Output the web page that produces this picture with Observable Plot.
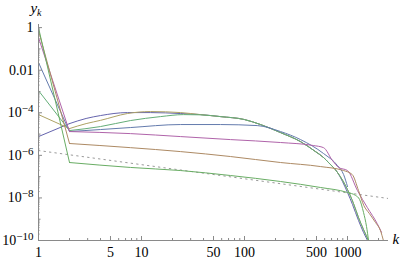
<!DOCTYPE html>
<html><head><meta charset="utf-8">
<script src="https://cdn.jsdelivr.net/npm/d3@7"></script>
<script src="https://cdn.jsdelivr.net/npm/@observablehq/plot@0.6"></script>
<style>
html,body{margin:0;padding:0;background:#fff}
#chart svg{display:block}
#chart svg, #chart svg text, #chart svg tspan{font-family:"Liberation Serif","Times New Roman","DejaVu Serif",serif !important}
</style>
</head><body><div id="chart"></div>
<script>
// ---- data ----
const c1k = [1, 2, 2.9, 4, 7.3, 12.2, 24, 37.4, 58.5, 100, 143, 224, 350, 489, 585, 654, 800, 1000, 1118, 1279, 1430, 1564];
const c1y = [7.6e-6, 3.1e-5, 5.4e-5, 7.4e-5, 1.02e-4, 1.02e-4, 9.2e-5, 8.2e-5, 6.6e-5, 4.8e-5, 2.8e-5, 1.17e-5, 4.4e-6, 1.5e-6, 7.9e-7, 4.6e-7, 1.56e-7, 1.8e-8, 4.9e-9, 8.7e-10, 2.4e-10, 1e-10];
const c3k = [1, 2, 2.9, 4, 7.3, 12.2, 24, 37.4, 58.5, 100, 143, 224, 350, 489, 585, 654, 800, 1000, 1143, 1279, 1430, 1600];
const c3y = [8.2e-5, 1.81e-5, 3.1e-5, 4.4e-5, 9.2e-5, 1.14e-4, 1.02e-4, 8.2e-5, 6.6e-5, 4.8e-5, 2.8e-5, 1.17e-5, 4.4e-6, 1.5e-6, 7.9e-7, 4.6e-7, 1.56e-7, 2.48e-8, 5.5e-9, 1.2e-9, 3.3e-10, 1e-10];
const c4k = [1, 2, 4, 7.8, 15.3, 25.6, 37.4, 58.5, 100, 143, 224, 350, 489, 585, 654, 800, 1000, 1143, 1279, 1430, 1600];
const c4y = [1.1e-3, 1.46e-5, 2.25e-5, 4.3e-5, 6.6e-5, 8.2e-5, 8.0e-5, 6.6e-5, 4.8e-5, 2.8e-5, 1.17e-5, 4.4e-6, 1.5e-6, 7.9e-7, 4.6e-7, 1.56e-7, 2.48e-8, 5.5e-9, 1.2e-9, 3.3e-10, 1e-10];
const c5k = [1, 2, 4, 7.8, 24, 58.5, 133, 224, 350, 585, 800, 916, 1000];
const c5y = [2.3e-2, 1.31e-5, 1.63e-5, 2.02e-5, 2.8e-5, 2.8e-5, 2.5e-5, 1.31e-5, 5.5e-6, 1.22e-6, 3.3e-7, 1.26e-7, 3.4e-8];
const c6k = [1, 2, 7.8, 24, 73, 224, 465, 585, 715, 820, 1000, 1250, 1560, 1940, 2140];
const c6y = [0.34, 1.31e-5, 1.05e-5, 7.6e-6, 5.5e-6, 4.0e-6, 2.9e-6, 2.3e-6, 5.7e-7, 2.7e-7, 1.93e-7, 2.2e-8, 3.5e-9, 6.3e-10, 2.4e-10];
const c7k = [1, 2, 7.8, 24, 73, 224, 545, 916, 1110, 1280, 1440, 1630, 1870, 2090, 2230];
const c7y = [0.72, 3.6e-6, 2.3e-6, 1.5e-6, 8.8e-7, 4.6e-7, 2.98e-7, 1.93e-7, 1.26e-7, 2.2e-8, 4.4e-9, 1.85e-9, 7.0e-10, 2.9e-10, 1e-10];
const c8k = [1, 2, 7.8, 24, 73, 224, 545, 1000, 1200, 1310, 1430, 1530, 1600];
const c8y = [1.0, 4.6e-7, 2.7e-7, 1.93e-7, 1.13e-7, 5.9e-8, 3.1e-8, 1.8e-8, 1.3e-8, 8.4e-9, 2.1e-9, 4.5e-10, 1e-10];
const refK = [1, 2500];
const refY = [1.68e-6, 9.4e-9];

const xTicks = [1, 5, 10, 50, 100, 500, 1000];
const xTickLabels = ["1", "5", "10", "50", "100", "500", "1000"];
const xMinorTicks = [2, 3, 4, 6, 7, 8, 9, 20, 30, 40, 60, 70, 80, 90, 200, 300, 400, 600, 700, 800, 900, 2000];
const yTicks = [1, 1e-2, 1e-4, 1e-6, 1e-8, 1e-10];
const yTickLabels = ["1", "0.01", "10^−4", "10^−6", "10^−8", "10^−10"];
const yMidTicks = [1e-1, 1e-3, 1e-5, 1e-7, 1e-9];
const yMinorMant = [2, 3, 4, 5, 6, 7, 8, 9];
const yMinorExp = [-10, -9, -8, -7, -6, -5, -4, -3, -2, -1];

// ---- build ----
const series = [
  {k: c1k, y: c1y, color: "#6564AD"},
  {k: c3k, y: c3y, color: "#ADA264"},
  {k: c4k, y: c4y, color: "#64AD78"},
  {k: c5k, y: c5y, color: "#647BAD"},
  {k: c6k, y: c6y, color: "#B064AA"},
  {k: c7k, y: c7y, color: "#AD8A64"},
  {k: c8k, y: c8y, color: "#69AD64"}
];
const yMinor = yMinorExp.flatMap(e => yMinorMant.map(m => m * Math.pow(10, e)));
const refRows = refK.map((k, i) => ({k, y: refY[i]}));
const axisColor = "#8a8a8a";
const serif = "'Liberation Serif', 'Times New Roman', serif";

const lineMarks = series.flatMap(s => {
  const rows = s.k.map((k, i) => ({k, y: s.y[i]}));
  return [
    Plot.line(rows.slice(0, 2), {x: "k", y: "y", stroke: s.color, strokeWidth: 1, clip: true}),
    Plot.line(rows.slice(1), {x: "k", y: "y", stroke: s.color, strokeWidth: 1, curve: "monotone-x", clip: true})
  ];
});

const chart = Plot.plot({
  width: 407, height: 260,
  marginLeft: 38, marginRight: 19, marginTop: 24, marginBottom: 20,
  x: {type: "log", domain: [1, 2500], axis: null},
  y: {type: "log", domain: [1e-10, 1.4], axis: null},
  style: {fontFamily: serif, fontSize: "14px", background: "white", color: "black"},
  marks: [
    Plot.line(refRows, {x: "k", y: "y", stroke: "#9a9a9a", strokeWidth: 1, strokeDasharray: "1.5,4", clip: true}),
    ...lineMarks,
    Plot.ruleY([1e-10], {stroke: axisColor}),
    Plot.ruleX([1], {stroke: axisColor}),
    Plot.ruleX(xTicks, {x: d => d, y1: 1e-10, y2: 1e-10, insetBottom: 4, stroke: axisColor}),
    Plot.ruleX(xMinorTicks, {x: d => d, y1: 1e-10, y2: 1e-10, insetBottom: 2, stroke: axisColor}),
    Plot.ruleY(yTicks, {y: d => d, x1: 1, x2: 1, insetRight: -4, stroke: axisColor}),
    Plot.ruleY(yMidTicks, {y: d => d, x1: 1, x2: 1, insetRight: -2.5, stroke: axisColor}),
    Plot.ruleY(yMinor, {y: d => d, x1: 1, x2: 1, insetRight: -1.5, stroke: axisColor}),
    Plot.text(xTicks, {x: d => d, y: 1e-10, text: (d, i) => xTickLabels[i], dy: 12.5, textAnchor: "middle", lineAnchor: "middle", fill: "black", fontSize: 14}),
    Plot.text(yTicks, {x: 1, y: d => d, text: (d, i) => yTickLabels[i], dx: -5, textAnchor: "end", lineAnchor: "middle", fill: "black", fontSize: 14}),
    Plot.text(["k"], {frameAnchor: "bottom-right", dx: 4, dy: -1, textAnchor: "start", lineAnchor: "middle", fontStyle: "italic", fontSize: 15, fill: "black"}),
    Plot.text(["y"], {frameAnchor: "top-left", dx: -8, dy: -12, textAnchor: "start", lineAnchor: "bottom", fontStyle: "italic", fontSize: 15, fill: "black"}),
    Plot.text(["k"], {frameAnchor: "top-left", dx: -1.5, dy: -9, textAnchor: "start", lineAnchor: "bottom", fontStyle: "italic", fontSize: 10, fill: "black"})
  ]
});

// serif font and superscripts for powers of ten
d3.select(chart).attr("font-family", serif).selectAll("g").attr("font-family", serif);
d3.select(chart).selectAll("text").attr("font-family", serif).each(function() {
  const t = this.textContent;
  if (t.includes("^")) {
    const [base, exp] = t.split("^");
    const sel = d3.select(this);
    sel.text(null);
    sel.append("tspan").text(base);
    sel.append("tspan").attr("dy", "-0.45em").attr("font-size", "11px").text(exp);
  }
});
document.getElementById("chart").append(chart);
</script>
</body></html>
